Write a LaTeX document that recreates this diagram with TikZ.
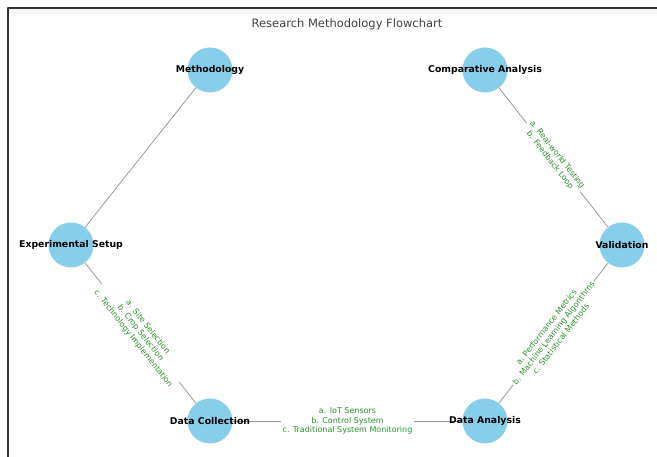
\documentclass[tikz,border=0pt]{standalone}
\usepackage{fontspec}
\setmainfont{DejaVu Sans}
\definecolor{skyblue}{HTML}{87CEEB}
\definecolor{edgegray}{HTML}{9A9A9A}
\definecolor{labgreen}{HTML}{2A942A}
\begin{document}
\begin{tikzpicture}[x=1pt, y=-1pt, line join=round, line cap=round,
  stage/.style={circle, fill=skyblue, minimum size=45pt, inner sep=0pt},
  stagename/.style={font=\fontsize{9.3}{11}\selectfont\bfseries},
  edgeline/.style={draw=edgegray, line width=.8pt},
  elab/.style={sloped, fill=white, text=labgreen, align=center, inner sep=1.5pt,
    rounded corners=2pt, font=\fontsize{8}{9.3}\selectfont}]
 \useasboundingbox (0,0) rectangle (657,457);
 % screenshot frame
 \fill[gray!7] (8,8) rectangle (657,14);
 \draw[line width=1.6pt, black!80] (8,457) -- (8,8) -- (657,8);
 \node[font=\fontsize{11.5}{14}\selectfont, text=black!75] (title) at (347,24) {Research Methodology Flowchart};
 % stages
 \node[stage] (meth) at (210,70) {};
 \node[stage] (comp) at (485,70) {};
 \node[stage] (exp) at (71,245) {};
 \node[stage] (val) at (622,245) {};
 \node[stage] (coll) at (210,421) {};
 \node[stage] (anal) at (485,421) {};
 % links
 \draw[edgeline] (meth) -- (exp);
 \draw[edgeline] (exp) -- node[elab] {a. Site Selection\\b. Crop Selection\\c. Technology Implementation} (coll);
 \draw[edgeline] (coll) -- node[elab] {a. IoT Sensors\\b. Control System\\c. Traditional System Monitoring} (anal);
 \draw[edgeline] (anal) -- node[elab] {a. Performance Metrics\\b. Machine Learning Algorithms\\c. Statistical Methods} (val);
 \draw[edgeline] (val) -- node[elab] {a. Real-world Testing\\b. Feedback Loop} (comp);
 % names on top
 \foreach \n/\t in {meth/Methodology, comp/Comparative Analysis, exp/Experimental Setup,
   val/Validation, coll/Data Collection, anal/Data Analysis}
   \node[stagename] (\n-name) at (\n) {\t};
\end{tikzpicture}
\end{document}
